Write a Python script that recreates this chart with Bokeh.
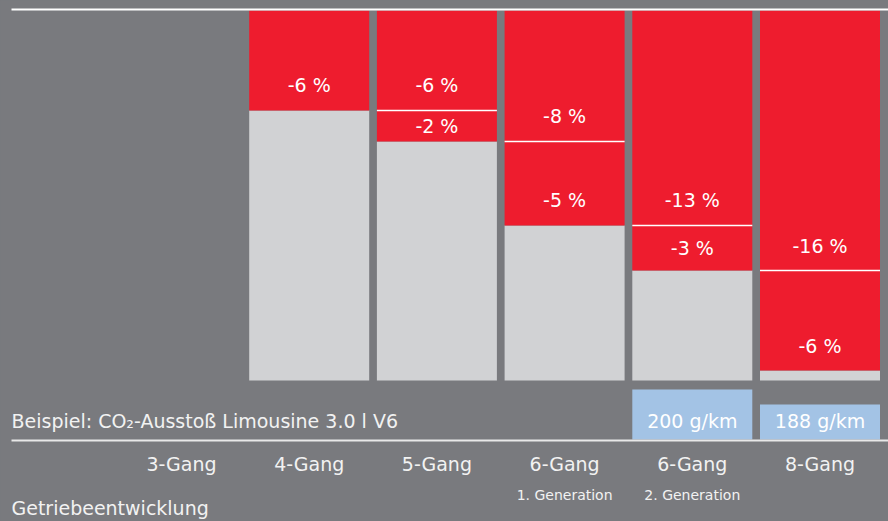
from bokeh.plotting import figure
from bokeh.models import Range1d, ColumnDataSource
from bokeh.embed import file_html
from bokeh.resources import INLINE
from bokeh.core.properties import value

# ---------------- data ----------------
categories = ["3-Gang", "4-Gang", "5-Gang", "6-Gang", "6-Gang", "8-Gang"]
generations = ["", "", "", "1. Generation", "2. Generation", ""]
remaining = [100.0, 73.0, 64.6, 41.9, 29.7, 2.7]          # remaining consumption share, 3-Gang = 100
step_labels = ["", "-6 %", "-2 %", "-5 %", "-3 %", "-6 %"]   # saving of this step
prior_labels = ["", "", "-6 %", "-8 %", "-13 %", "-16 %"]   # accumulated earlier savings
co2_values = [None, None, None, None, 200, 188]
co2_labels = ["", "", "", "", "200 g/km", "188 g/km"]
example_title = "Beispiel: CO\u2082-Ausstoß Limousine 3.0 l V6"
axis_title = "Getriebeentwicklung"

# ---------------- layout / style ----------------
W, H = 888, 521
OX, OY = 0, 0
X0, STEP = 181.0, 127.7
BAR_PX = 120.0
BASE_Y, PX_PER_PCT = 380.0, 3.7
CO2_BASE_Y, CO2_ZERO, PX_PER_G = 439.0, 160.0, 1.25
TEXT_SHIFT = 4  # px upwards for alphabetic texts

BG = "#797a7e"
RED = "#ee1c2e"
GREY = "#d1d2d4"
BLUE = "#a3c3e5"
TXT = "#f2f2f2"
FONT = value("DejaVu Sans")


def xv(img_x):
    return (img_x - X0) / STEP


def yv(img_y):
    return (BASE_Y - img_y) / PX_PER_PCT


def cv(img_y):
    return CO2_ZERO + (CO2_BASE_Y - img_y) / PX_PER_G


BW = BAR_PX / STEP
LABEL_OFF = 25 / PX_PER_PCT

p = figure(width=W, height=H, output_backend="svg", toolbar_location=None,
           x_range=Range1d(xv(OX), xv(OX + W)),
           y_range=Range1d(yv(OY + H), yv(OY)),
           min_border=0, background_fill_color=BG, border_fill_color=BG,
           outline_line_color=None)
p.extra_y_ranges = {"co2": Range1d(cv(OY + H), cv(OY))}
p.axis.visible = False
p.xgrid.visible = False
p.ygrid.visible = False

top = remaining[0]
idx = list(range(1, len(categories)))

# bars
bars = ColumnDataSource(dict(
    x=idx,
    rem=[remaining[i] for i in idx],
    top=[top for i in idx],
))
p.vbar(x="x", bottom=0, top="rem", width=BW, source=bars, color=GREY, line_color=None)
p.vbar(x="x", bottom="rem", top="top", width=BW, source=bars, color=RED, line_color=None)

# separators between earlier and current savings
sep_i = [i for i in idx if prior_labels[i]]
p.segment(x0=[i - BW / 2 for i in sep_i], x1=[i + BW / 2 for i in sep_i],
          y0=[remaining[i - 1] for i in sep_i], y1=[remaining[i - 1] for i in sep_i],
          line_color="white", line_width=1.5)

# saving labels
lx, ly, lt = [], [], []
for i in idx:
    lo, hi = remaining[i], remaining[i - 1]
    lx.append(i); ly.append(lo + min(LABEL_OFF, (hi - lo) / 2)); lt.append(step_labels[i])
    if prior_labels[i]:
        lo2 = remaining[i - 1]
        lx.append(i); ly.append(lo2 + min(LABEL_OFF, (top - lo2) / 2)); lt.append(prior_labels[i])
p.text(x=lx, y=ly, text=lt, text_color="white", text_font=FONT, text_font_size="19px",
       text_align="center", text_baseline="middle")

# CO2 boxes
ci = [i for i, v in enumerate(co2_values) if v is not None]
p.vbar(x=ci, bottom=CO2_ZERO, top=[co2_values[i] for i in ci], width=BW,
       y_range_name="co2", color=BLUE, line_color=None)
p.text(x=ci, y=[cv(424 - TEXT_SHIFT)] * len(ci), text=[co2_labels[i] for i in ci], y_range_name="co2",
       text_color="white", text_font=FONT, text_font_size="19px",
       text_align="center", text_baseline="alphabetic")

# rules
p.segment(x0=[xv(11)], x1=[xv(OX + W)], y0=[yv(9)], y1=[yv(9)], line_color="white", line_width=2)
p.segment(x0=[xv(11)], x1=[xv(OX + W)], y0=[yv(440)], y1=[yv(440)], line_color="#e8e8e8", line_width=2)

# category labels
p.text(x=list(range(len(categories))), y=[yv(467 - TEXT_SHIFT)] * len(categories), text=categories,
       text_color=TXT, text_font=FONT, text_font_size="19px",
       text_align="center", text_baseline="alphabetic")
gi = [i for i, g in enumerate(generations) if g]
p.text(x=gi, y=[yv(498 - TEXT_SHIFT)] * len(gi), text=[generations[i] for i in gi],
       text_color=TXT, text_font=FONT, text_font_size="14px",
       text_align="center", text_baseline="alphabetic")

# titles
p.text(x=[xv(11)], y=[yv(424 - TEXT_SHIFT)], text=[example_title], text_color=TXT, text_font=FONT,
       text_font_size="19px", text_align="left", text_baseline="alphabetic")
p.text(x=[xv(11)], y=[yv(513 - TEXT_SHIFT - 2)], text=[axis_title], text_color=TXT, text_font=FONT,
       text_font_size="19px", text_align="left", text_baseline="alphabetic")

html = file_html(p, INLINE)
html = html.replace("</head>", "<style>html,body{background-color:%s;}</style></head>" % BG, 1)
open("out.html", "w").write(html)
